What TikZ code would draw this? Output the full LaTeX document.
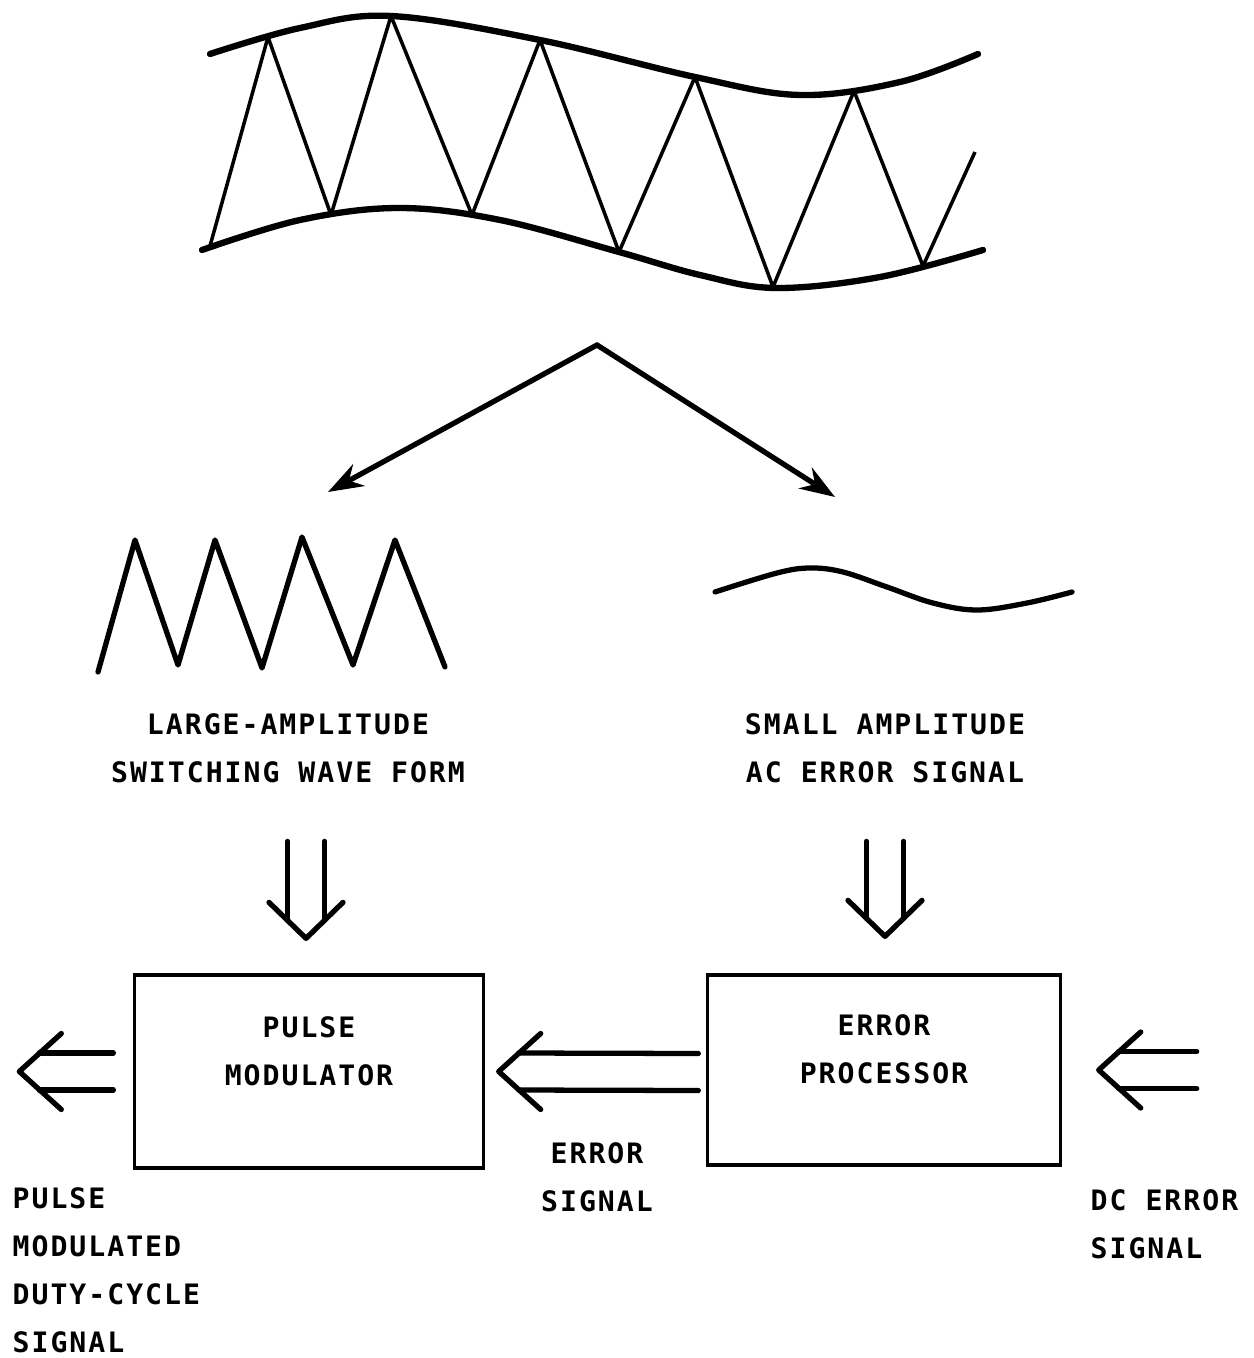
\documentclass[tikz,border=0pt]{standalone}
\usepackage{fontspec}
\newfontfamily\plotfont[LetterSpace=7.1]{DejaVu Sans Mono}
\usetikzlibrary{arrows.meta,calc}

% double-line arrows: #1 tail, #2 tip
\newcommand{\dblleft}[2]{%
  \draw[sig] ($(#1)+(0,-18.5)$) -- ($(#2)+(20,-18.5)$);
  \draw[sig] ($(#1)+(0,18.5)$) -- ($(#2)+(20,18.5)$);
  \draw[sig] ($(#2)+(42,-38)$) -- (#2) -- ($(#2)+(42,38)$);}
\newcommand{\dbldown}[2]{%
  \draw[sig] ($(#1)+(-18.5,0)$) -- ($(#2)+(-18.5,-18)$);
  \draw[sig] ($(#1)+(18.5,0)$) -- ($(#2)+(18.5,-18)$);
  \draw[sig] ($(#2)+(-37,-36)$) -- (#2) -- ($(#2)+(37,-36)$);}

\begin{document}
\begin{tikzpicture}[x=0.01cm,y=-0.01cm,
  lbl/.style={font=\plotfont\bfseries\fontsize{8}{13.6}\selectfont, inner sep=0pt, align=center},
  blk/.style={draw, line width=0.9pt, inner sep=0pt},
  sig/.style={line width=1.5pt, line cap=round, line join=round}]
\useasboundingbox (0,0) rectangle (1253,1358);

% composite wave with its envelope
\draw[line width=1.8pt, line cap=round] plot[smooth, tension=0.6] coordinates
  {(210,54) (300,28) (391,16) (540,40) (695,77) (800,95) (900,82) (978,54)};
\draw[line width=1.8pt, line cap=round] plot[smooth, tension=0.6] coordinates
  {(202,250) (300,220) (399,208) (500,220) (619,252) (700,275) (776,288) (880,277) (983,250)};
\draw[line width=1pt, line join=round] (210,246) -- (268,37) -- (331,215) -- (391,16)
  -- (472,215) -- (540,40) -- (619,252) -- (695,77) -- (773,287) -- (854,91)
  -- (923,266) -- (975,152);

% split into the two parts
\coordinate (split) at (597,345);
\coordinate (sw in) at (328,492);
\coordinate (err in) at (835,497);
\draw[sig, -{Stealth[length=10pt,width=7pt]}] (split) -- (sw in);
\draw[sig, -{Stealth[length=10pt,width=7pt]}] (split) -- (err in);

% switching wave
\draw[sig] (98,672) -- (135,540) -- (178,665) -- (215,540) -- (262,668)
  -- (302,537) -- (353,665) -- (395,540) -- (445,667);
% error wave
\draw[sig] plot[smooth, tension=0.6] coordinates
  {(715,592) (777,573) (810,568) (843,572) (887,587) (933,603) (977,610) (1027,603) (1072,592)};

\node[lbl] (sw text) at (288,748) {LARGE-AMPLITUDE\\SWITCHING WAVE FORM};
\node[lbl] (err text) at (885,748) {SMALL AMPLITUDE\\AC ERROR SIGNAL};

% blocks
\node[blk, minimum width=3.48cm, minimum height=1.93cm] (pm) at (309,1071.5) {};
\node[blk, minimum width=3.52cm, minimum height=1.90cm] (ep) at (884,1070) {};
\node[lbl] (pm text) at ($(pm.center)+(0,-20)$) {PULSE\\MODULATOR};
\node[lbl] (ep text) at ($(ep.center)+(0,-21)$) {ERROR\\PROCESSOR};

% arrows
\coordinate (pm top) at ($(pm.north)+(-3,-132)$);
\coordinate (pm tip) at ($(pm.north)+(-3,-35)$);
\coordinate (ep top) at ($(ep.north)+(1,-132)$);
\coordinate (ep tip) at ($(ep.north)+(1,-37)$);
\dbldown{pm top}{pm tip}
\dbldown{ep top}{ep tip}

\coordinate (out tail) at ($(pm.west)+(-20,0)$);
\coordinate (out tip) at ($(pm.west)+(-114,0)$);
\coordinate (mid tail) at ($(ep.west)+(-8,2)$);
\coordinate (mid tip) at ($(pm.east)+(14,0)$);
\coordinate (dc tail) at ($(ep.east)+(135,0)$);
\coordinate (dc tip) at ($(ep.east)+(37,0)$);
\dblleft{out tail}{out tip}
\dblleft{mid tail}{mid tip}
\dblleft{dc tail}{dc tip}

\node[lbl] (es text) at (597,1177) {ERROR\\SIGNAL};
\node[lbl, align=left, anchor=north west] (dc text) at (1090,1189) {DC ERROR\\SIGNAL};
\node[lbl, align=left, anchor=north west] (out text) at (12,1187)
  {PULSE\\MODULATED\\DUTY-CYCLE\\SIGNAL};
\end{tikzpicture}
\end{document}
